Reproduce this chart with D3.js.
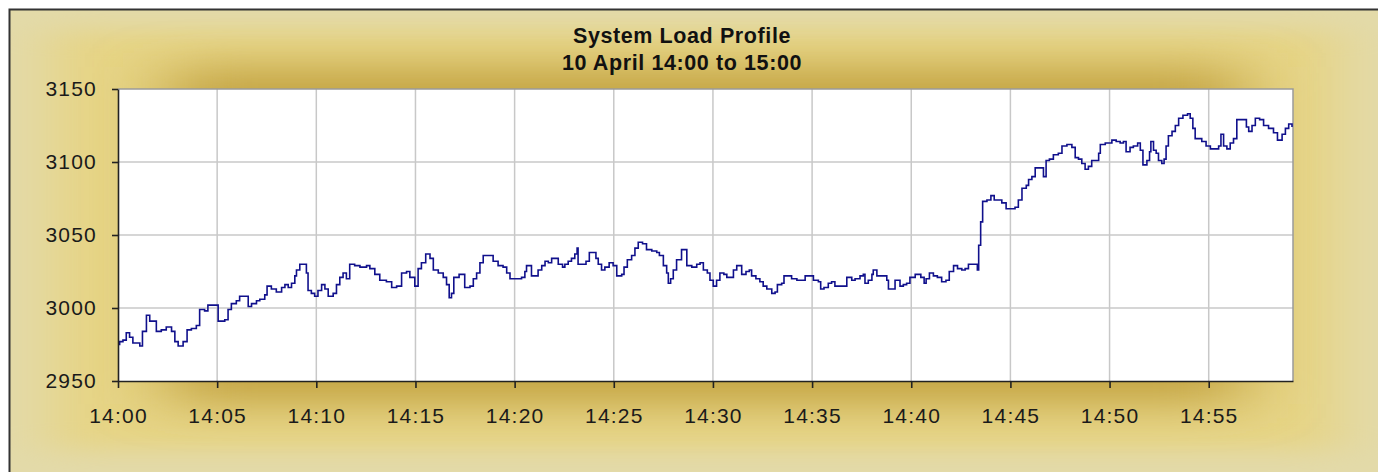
<!DOCTYPE html>
<html>
<head>
<meta charset="utf-8">
<script src="https://cdn.jsdelivr.net/npm/d3@7"></script>
<style>
  body { margin: 0; background: #fff; }
  svg { display: block; font-family: "Liberation Sans", Arial, sans-serif; }
</style>
</head>
<body>
<div id="chart"></div>
<script>
// Chart text
const titleLines = ["System Load Profile", "10 April 14:00 to 15:00"];

// Seconds after 14:00 and the load read at that moment
const seconds = [
  0, 5, 15, 25, 35, 45, 66, 74, 86, 96, 116, 131, 146, 162, 172, 182, 197, 209, 222, 237,
  247, 262, 272, 293, 303, 323, 333, 343, 358, 368, 389, 394, 404, 419, 429, 444, 451, 464, 479, 495,
  505, 515, 525, 535, 540, 550, 562, 570, 575, 585, 595, 605, 616, 626, 636, 651, 661, 671, 681, 691,
  701, 716, 732, 752, 762, 777, 792, 812, 828, 843, 858, 873, 883, 898, 908, 918, 931, 944, 954, 969,
  984, 994, 1002, 1009, 1016, 1032, 1044, 1049, 1065, 1075, 1085, 1095, 1105, 1125, 1135, 1150, 1165, 1176, 1186, 1206,
  1221, 1231, 1236, 1246, 1251, 1264, 1271, 1282, 1292, 1302, 1312, 1325, 1332, 1345, 1352, 1362, 1372, 1382, 1389, 1392,
  1406, 1416, 1426, 1438, 1446, 1453, 1463, 1473, 1486, 1498, 1509, 1524, 1531, 1541, 1554, 1564, 1574, 1587, 1599, 1615,
  1630, 1638, 1650, 1660, 1665, 1672, 1680, 1690, 1705, 1715, 1721, 1736, 1751, 1761, 1771, 1783, 1791, 1801, 1811, 1821,
  1833, 1842, 1854, 1862, 1872, 1880, 1887, 1900, 1910, 1917, 1930, 1942, 1952, 1963, 1978, 1988, 1995, 2008, 2015, 2031,
  2038, 2054, 2069, 2079, 2094, 2104, 2119, 2126, 2136, 2149, 2159, 2169, 2197, 2205, 2220, 2230, 2245, 2255, 2260, 2270,
  2281, 2285, 2296, 2311, 2326, 2331, 2341, 2351, 2366, 2376, 2386, 2396, 2412, 2429, 2439, 2445, 2455, 2467, 2479, 2492,
  2505, 2515, 2528, 2540, 2553, 2563, 2573, 2588, 2600, 2604, 2610, 2616, 2629, 2641, 2651, 2664, 2674, 2687, 2701, 2714,
  2724, 2735, 2748, 2755, 2765, 2775, 2790, 2800, 2808, 2818, 2830, 2845, 2856, 2871, 2886, 2896, 2906, 2916, 2926, 2936,
  2946, 2962, 2967, 2972, 2987, 2997, 3007, 3020, 3032, 3042, 3050, 3062, 3072, 3085, 3093, 3101, 3113, 3121, 3125, 3133,
  3141, 3148, 3158, 3165, 3171, 3178, 3189, 3199, 3209, 3222, 3236, 3244, 3252, 3259, 3269, 3279, 3292, 3305, 3320, 3330,
  3337, 3345, 3355, 3365, 3375, 3385, 3401, 3414, 3421, 3431, 3441, 3454, 3466, 3481, 3496, 3508, 3522, 3532, 3542, 3552
];
const load = [
  2975, 2977, 2978, 2983, 2980, 2976, 2974, 2984, 2995, 2991, 2984, 2985, 2987, 2984, 2977, 2974, 2977, 2985, 2986, 2988,
  2999, 2998, 3002, 3002, 2991, 2992, 2999, 3003, 3005, 3008, 3008, 3001, 3003, 3005, 3006, 3009, 3015, 3013, 3011, 3014,
  3016, 3014, 3017, 3022, 3026, 3030, 3030, 3024, 3012, 3010, 3008, 3012, 3016, 3013, 3008, 3010, 3016, 3021, 3024, 3020,
  3030, 3029, 3028, 3029, 3027, 3023, 3019, 3018, 3014, 3015, 3024, 3025, 3021, 3015, 3027, 3031, 3037, 3034, 3026, 3024,
  3021, 3016, 3007, 3010, 3021, 3023, 3023, 3014, 3015, 3020, 3024, 3031, 3036, 3036, 3032, 3029, 3028, 3024, 3020, 3020,
  3021, 3025, 3029, 3029, 3022, 3022, 3026, 3029, 3032, 3031, 3034, 3034, 3030, 3028, 3030, 3032, 3034, 3037, 3041, 3030,
  3030, 3032, 3038, 3038, 3034, 3030, 3026, 3028, 3031, 3029, 3022, 3023, 3028, 3033, 3036, 3041, 3045, 3044, 3040, 3039,
  3038, 3036, 3029, 3024, 3017, 3020, 3026, 3033, 3040, 3040, 3029, 3028, 3030, 3031, 3026, 3024, 3019, 3015, 3019, 3024,
  3023, 3021, 3021, 3026, 3029, 3029, 3023, 3025, 3026, 3022, 3020, 3018, 3015, 3013, 3010, 3011, 3016, 3017, 3022, 3022,
  3020, 3019, 3019, 3022, 3022, 3019, 3018, 3013, 3014, 3017, 3018, 3015, 3015, 3021, 3019, 3020, 3022, 3023, 3017, 3019,
  3023, 3026, 3022, 3022, 3019, 3013, 3013, 3019, 3015, 3016, 3017, 3021, 3023, 3021, 3017, 3020, 3024, 3022, 3021, 3018,
  3019, 3025, 3029, 3027, 3026, 3027, 3030, 3030, 3026, 3043, 3059, 3073, 3074, 3077, 3074, 3074, 3072, 3068, 3068, 3069,
  3074, 3082, 3084, 3088, 3090, 3096, 3096, 3090, 3101, 3102, 3105, 3106, 3111, 3112, 3110, 3103, 3102, 3099, 3095, 3097,
  3101, 3101, 3106, 3112, 3113, 3113, 3115, 3114, 3113, 3114, 3107, 3110, 3111, 3113, 3108, 3098, 3101, 3107, 3114, 3108,
  3106, 3101, 3099, 3102, 3111, 3118, 3121, 3125, 3130, 3132, 3133, 3130, 3123, 3116, 3116, 3114, 3111, 3109, 3109, 3111,
  3119, 3111, 3109, 3113, 3116, 3129, 3129, 3124, 3121, 3125, 3130, 3129, 3125, 3123, 3120, 3115, 3119, 3123, 3126, 3124
];
const yTicks = [2950, 3000, 3050, 3100, 3150];
const endSecond = 3555;

const width = 1378, height = 472;
const plot = { left: 118, top: 89, right: 1293, bottom: 381 };

const svg = d3.select("#chart")
  .append("svg")
  .attr("width", width)
  .attr("height", height);

const defs = svg.append("defs");
defs.append("filter")
  .attr("id", "soft")
  .attr("x", "-50%").attr("y", "-50%").attr("width", "200%").attr("height", "200%")
  .append("feGaussianBlur").attr("stdDeviation", "30 12");
defs.append("filter")
  .attr("id", "glow")
  .attr("x", "-50%").attr("y", "-50%").attr("width", "200%").attr("height", "200%")
  .append("feGaussianBlur").attr("stdDeviation", "38 20");
defs.append("clipPath").attr("id", "frameClip")
  .append("rect").attr("x", 10).attr("y", 10).attr("width", width).attr("height", height);

// Gold frame background
const bg = svg.append("g").attr("clip-path", "url(#frameClip)");
bg.append("rect")
  .attr("x", 10).attr("y", 10).attr("width", width).attr("height", height)
  .attr("fill", "#e3daa9");
bg.append("rect")
  .attr("x", 50).attr("y", 30).attr("width", 1290).attr("height", 420)
  .attr("fill", "#e6d485")
  .attr("filter", "url(#soft)");
bg.append("rect")
  .attr("x", plot.left + 50).attr("y", plot.top - 22)
  .attr("width", plot.right - plot.left - 100).attr("height", plot.bottom - plot.top + 45)
  .attr("fill", "#c4a443")
  .attr("filter", "url(#glow)");

// Outer border
svg.append("rect")
  .attr("x", 9.5).attr("y", 9.5).attr("width", width + 20).attr("height", height + 20)
  .attr("fill", "none").attr("stroke", "#333").attr("stroke-width", 2);

// Title
svg.append("g")
  .selectAll("text")
  .data(titleLines)
  .join("text")
  .attr("x", 682)
  .attr("y", (d, i) => 43 + i * 27)
  .attr("text-anchor", "middle")
  .attr("font-size", 21.5)
  .attr("font-weight", "bold")
  .attr("letter-spacing", 0.6)
  .attr("fill", "#111")
  .text(d => d);

// Scales
const start = new Date(2000, 3, 10, 14, 0, 0);
const times = seconds.map(s => new Date(+start + s * 1000));
const x = d3.scaleTime()
  .domain([start, new Date(+start + endSecond * 1000)])
  .range([plot.left, plot.right]);
const y = d3.scaleLinear()
  .domain([yTicks[0], yTicks[yTicks.length - 1]])
  .range([plot.bottom, plot.top]);
const xTicks = d3.timeMinute.every(5).range(start, new Date(+start + endSecond * 1000 + 1));

// Plot area
svg.append("rect")
  .attr("x", plot.left).attr("y", plot.top)
  .attr("width", plot.right - plot.left).attr("height", plot.bottom - plot.top)
  .attr("fill", "#fff");

// Grid lines
svg.append("g")
  .selectAll("line")
  .data(xTicks.slice(1))
  .join("line")
  .attr("x1", d => x(d)).attr("x2", d => x(d))
  .attr("y1", plot.top).attr("y2", plot.bottom)
  .attr("stroke", "#c8c8c8").attr("stroke-width", 1.5);
svg.append("g")
  .selectAll("line")
  .data(yTicks.slice(1, -1))
  .join("line")
  .attr("x1", plot.left).attr("x2", plot.right)
  .attr("y1", d => y(d)).attr("y2", d => y(d))
  .attr("stroke", "#c8c8c8").attr("stroke-width", 1.5);

// Top and right edge of plot
svg.append("path")
  .attr("d", `M${plot.left},${plot.top}H${plot.right}V${plot.bottom}`)
  .attr("fill", "none").attr("stroke", "#9a9a9a").attr("stroke-width", 1.5);

// Load line
const line = d3.line()
  .x((d, i) => x(times[i]))
  .y(d => y(d))
  .curve(d3.curveStepAfter);
svg.append("path")
  .datum(load)
  .attr("d", line)
  .attr("fill", "none")
  .attr("stroke", "#10108c")
  .attr("stroke-width", 1.6)
  .attr("stroke-linejoin", "miter");

// Axes
const yAxis = svg.append("g")
  .attr("transform", `translate(${plot.left},0)`)
  .call(d3.axisLeft(y).tickValues(yTicks).tickFormat(d3.format("d"))
    .tickSize(6).tickSizeOuter(0).tickPadding(15));
const xAxis = svg.append("g")
  .attr("transform", `translate(0,${plot.bottom})`)
  .call(d3.axisBottom(x).tickValues(xTicks).tickFormat(d3.timeFormat("%H:%M"))
    .tickSize(7).tickSizeOuter(0).tickPadding(20));

[yAxis, xAxis].forEach(g => {
  g.select(".domain").attr("stroke", "#222").attr("stroke-width", 1.6);
  g.selectAll(".tick line").attr("stroke", "#222").attr("stroke-width", 1.6);
  g.selectAll("text")
    .attr("font-family", "'Liberation Sans', Arial, sans-serif")
    .attr("font-size", 21)
    .attr("letter-spacing", 1.2)
    .attr("fill", "#1a1a1a");
});
</script>
</body>
</html>
